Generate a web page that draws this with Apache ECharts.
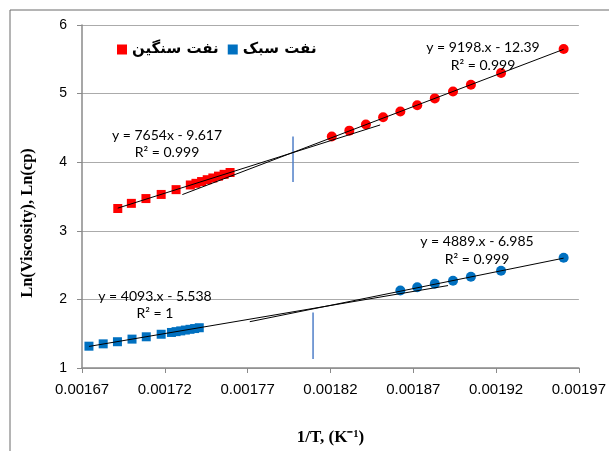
<!DOCTYPE html>
<html>
<head>
<meta charset="utf-8">
<script src="https://cdn.jsdelivr.net/npm/echarts@6/dist/echarts.min.js"></script>
<style>html,body{margin:0;padding:0;background:#fff}#c{width:609px;height:451px}</style>
</head>
<body>
<div id="c"></div>
<script>
// ---- data ----
const heavyName = 'نفت سنگین';
const lightName = 'نفت سبک';

// heavy oil, square points (1/T, ln mu)
const heavySqX = [0.0016916, 0.0016998, 0.0017086, 0.0017178, 0.0017268,
                  0.0017354, 0.0017388, 0.0017422, 0.0017456, 0.0017490, 0.0017524, 0.0017558, 0.0017594];
const heavySqY = [3.325, 3.400, 3.470, 3.530, 3.600,
                  3.668, 3.692, 3.718, 3.745, 3.770, 3.797, 3.823, 3.850];
// heavy oil, circle points
const heavyCiX = [0.0018208, 0.0018314, 0.0018414, 0.0018518, 0.0018622, 0.0018724,
                  0.0018830, 0.0018940, 0.0019048, 0.0019230, 0.0019608];
const heavyCiY = [4.375, 4.460, 4.550, 4.655, 4.738, 4.830, 4.930, 5.030, 5.130, 5.300, 5.650];
// light oil, square points
const lightSqX = [0.0016742, 0.0016828, 0.0016914, 0.0017002, 0.0017088, 0.0017178,
                  0.0017240, 0.0017268, 0.0017296, 0.0017324, 0.0017352, 0.0017380, 0.0017408];
const lightSqY = [1.318, 1.352, 1.383, 1.421, 1.455, 1.492,
                  1.518, 1.530, 1.541, 1.553, 1.564, 1.575, 1.587];
// light oil, circle points
const lightCiX = [0.0018622, 0.0018724, 0.0018830, 0.0018940, 0.0019048, 0.0019230, 0.0019608];
const lightCiY = [2.130, 2.178, 2.228, 2.272, 2.330, 2.418, 2.608];

// linear trend lines (as printed on the chart) and their drawn x-range
const trendSlope     = [7654, 9198, 4093, 4889];
const trendIntercept = [-9.617, -12.39, -5.538, -6.985];
const trendFrom      = [0.0016916, 0.0017306, 0.0016742, 0.0017713];
const trendTo        = [0.0018500, 0.0019608, 0.0018910, 0.0019608];
const trendLabels = [
  ['y = 7654x - 9.617', 'R² = 0.999'],
  ['y = 9198.x - 12.39', 'R² = 0.999'],
  ['y = 4093.x - 5.538', 'R² = 1'],
  ['y = 4889.x - 6.985', 'R² = 0.999']
];

// blue vertical marker segments
const markX    = [0.0017974, 0.0018095];
const markYLow = [3.71, 1.13];
const markYHigh= [4.375, 1.81];

// axes
const xMin = 0.00167, xMax = 0.00197, xStep = 0.00005;
const yMin = 1, yMax = 6, yStep = 1;
const xTitle = '1/T, (K⁻¹)';
const yTitle = 'Ln(Viscosity), Ln(cp)';

// ---- build ----
const zip = (xs, ys) => xs.map((x, i) => [x, ys[i]]);
const RED = '#FF0000', BLUE = '#0070C0';

const series = [
  {name: heavyName, type: 'scatter', symbol: 'rect', symbolSize: 9, itemStyle: {color: RED, opacity: 1}, data: zip(heavySqX, heavySqY), z: 3},
  {name: heavyName, type: 'scatter', symbol: 'circle', symbolSize: 10, itemStyle: {color: RED, opacity: 1}, data: zip(heavyCiX, heavyCiY), z: 3},
  {name: lightName, type: 'scatter', symbol: 'rect', symbolSize: 9, itemStyle: {color: BLUE, opacity: 1}, data: zip(lightSqX, lightSqY), z: 3},
  {name: lightName, type: 'scatter', symbol: 'circle', symbolSize: 10, itemStyle: {color: BLUE, opacity: 1}, data: zip(lightCiX, lightCiY), z: 3}
];
trendSlope.forEach((m, i) => {
  const b = trendIntercept[i];
  series.push({
    type: 'line', silent: true, showSymbol: false, symbol: 'none', z: 4,
    lineStyle: {color: '#000', width: 1},
    data: [[trendFrom[i], m * trendFrom[i] + b], [trendTo[i], m * trendTo[i] + b]]
  });
});
markX.forEach((x, i) => {
  series.push({
    type: 'line', silent: true, symbol: 'none', z: 2,
    lineStyle: {color: '#4F7FC8', width: 1.5},
    data: [[x, markYLow[i]], [x, markYHigh[i]]]
  });
});

const eqFont = {fontFamily: 'Lato', fontSize: 14, fill: '#000'};
const eqPos = [[167, 135, 152], [483, 47, 65], [155, 296, 313], [477, 241, 259]];
const graphics = [
  {type: 'rect', shape: {x: 10, y: 10, width: 640, height: 480}, style: {fill: 'none', stroke: '#6b6b6b', lineWidth: 1}, silent: true, z: 0},
  {type: 'text', x: 28, y: 223, rotation: Math.PI / 2,
   style: {text: yTitle, font: 'bold 16.5px "Liberation Serif"', fill: '#000', align: 'center', verticalAlign: 'middle'}}
];
trendLabels.forEach((lab, i) => {
  graphics.push({type: 'text', x: eqPos[i][0], y: eqPos[i][1], z: 10,
    style: Object.assign({text: lab[0], align: 'center', verticalAlign: 'middle'}, eqFont)});
  graphics.push({type: 'text', x: eqPos[i][0], y: eqPos[i][2], z: 10,
    style: Object.assign({text: lab[1], align: 'center', verticalAlign: 'middle'}, eqFont)});
});

const chart = echarts.init(document.getElementById('c'), null, {renderer: 'canvas'});
chart.setOption({
  animation: false,
  backgroundColor: '#fff',
  grid: {left: 82, right: 27, top: 25, bottom: 78.5, containLabel: false},
  legend: {
    left: 112, top: 37, itemWidth: 10, itemHeight: 10, itemGap: 9,
    data: [{name: heavyName, icon: 'rect'}, {name: lightName, icon: 'rect'}],
    textStyle: {fontFamily: 'DejaVu Sans', fontWeight: 'bold', fontSize: 15, color: '#000'}
  },
  xAxis: {
    type: 'value', min: xMin, max: xMax, interval: xStep,
    name: xTitle, nameLocation: 'middle', nameGap: 61,
    nameTextStyle: {fontFamily: 'Liberation Serif', fontWeight: 'bold', fontSize: 17, color: '#000'},
    axisLine: {show: true, onZero: false, lineStyle: {color: '#8a8a8a', width: 1.5}},
    axisTick: {show: true, inside: false, length: 5, lineStyle: {color: '#8a8a8a'}},
    axisLabel: {margin: 14, fontFamily: 'Liberation Sans', fontSize: 15, color: '#000',
      formatter: v => v.toFixed(5)},
    splitLine: {show: false}
  },
  yAxis: {
    type: 'value', min: yMin, max: yMax, interval: yStep,
    axisLine: {show: true, onZero: false, lineStyle: {color: '#8a8a8a', width: 1.5}},
    axisTick: {show: true, inside: false, length: 5, lineStyle: {color: '#8a8a8a'}},
    axisLabel: {margin: 15, fontFamily: 'Liberation Sans', fontSize: 14, color: '#000'},
    splitLine: {show: true, lineStyle: {color: '#ababab', width: 1}}
  },
  series: series,
  graphic: graphics
});
</script>
</body>
</html>
